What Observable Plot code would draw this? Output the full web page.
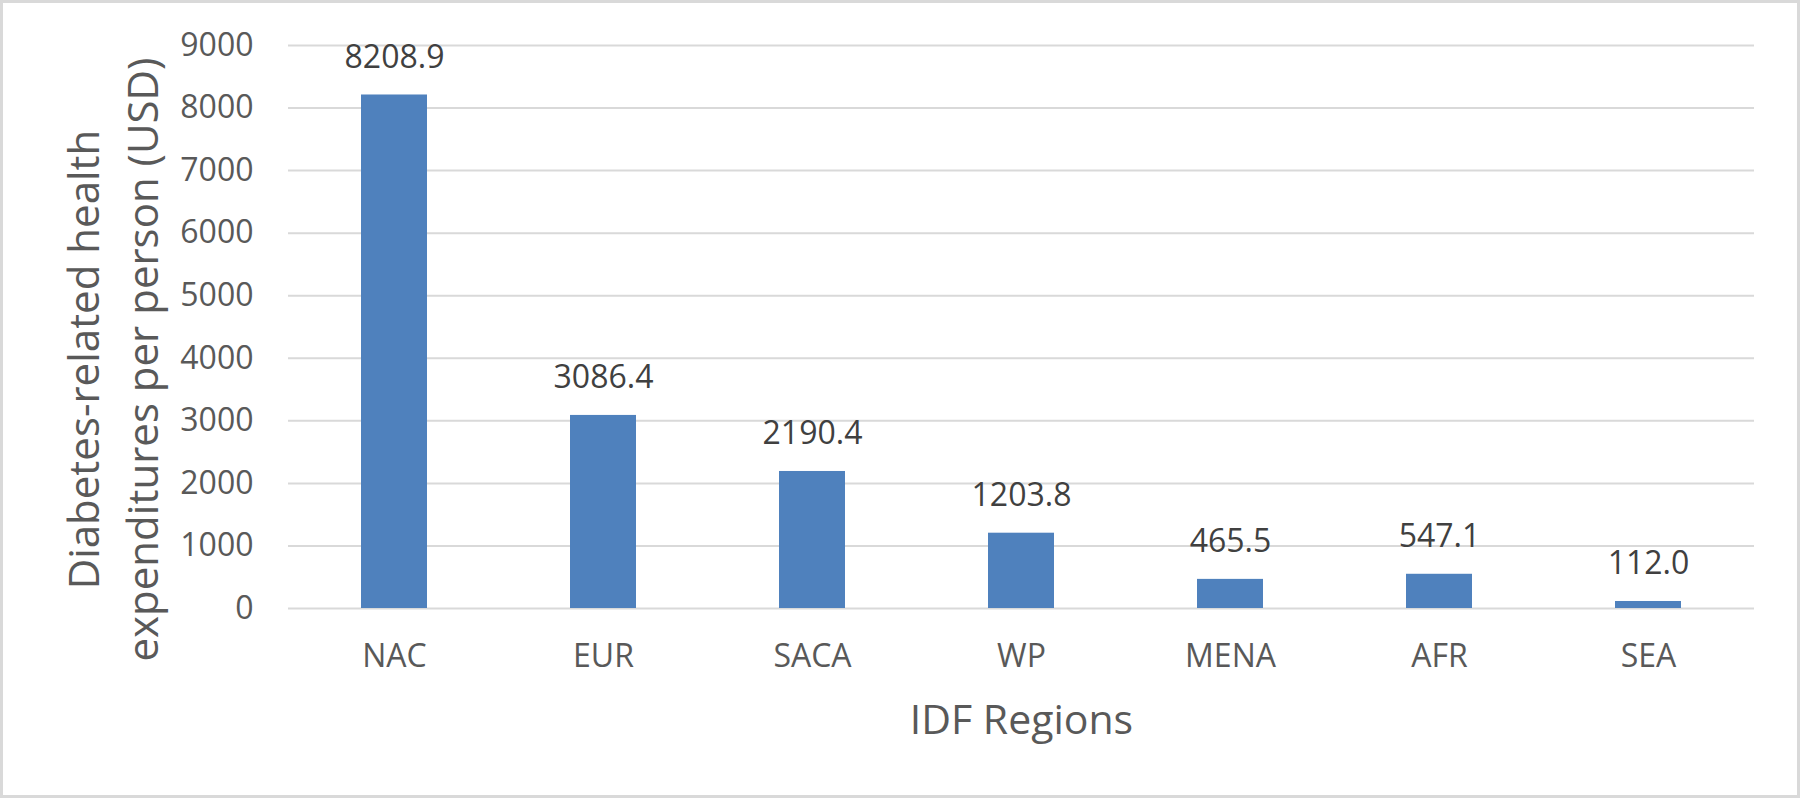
<!DOCTYPE html>
<html><head><meta charset="utf-8">
<script src="https://cdn.jsdelivr.net/npm/d3@7"></script>
<script src="https://cdn.jsdelivr.net/npm/@observablehq/plot@0.6"></script>
<style>
body{margin:0;background:#fff}
#chart svg{display:block;outline:3px solid #d9d9d9;outline-offset:-3px}
</style>
</head><body><div id="chart"></div>
<script>
const regions = ["NAC", "EUR", "SACA", "WP", "MENA", "AFR", "SEA"];
const spending = [8208.9, 3086.4, 2190.4, 1203.8, 465.5, 547.1, 112.0];
const yTicks = [0, 1000, 2000, 3000, 4000, 5000, 6000, 7000, 8000, 9000];
const yTitleLines = ["Diabetes-related health", "expenditures per person (USD)"];
const xTitle = "IDF Regions";

const data = regions.map((r, i) => ({region: r, value: spending[i]}));

const chart = Plot.plot({
  width: 1800,
  height: 798,
  marginLeft: 288,
  marginRight: 46,
  marginTop: 45,
  marginBottom: 190,
  style: {fontFamily: "'Open Sans', sans-serif", background: "#fff"},
  x: {domain: regions, paddingInner: 0.685, paddingOuter: 0.3425, label: null},
  y: {domain: [0, 9000], label: null},
  marks: [
    Plot.gridY(yTicks, {stroke: "#d9d9d9", strokeOpacity: 1, strokeWidth: 2}),
    Plot.barY(data, {x: "region", y: "value", fill: "#4f81bd"}),
    Plot.text(data, {x: "region", y: "value", text: d => d.value.toFixed(1), lineAnchor: "bottom", dy: -27, fontSize: 32, fill: "#404040"}),
    Plot.axisY(yTicks, {tickSize: 0, tickPadding: 35, fontSize: 32, color: "#595959", tickFormat: "d", label: null}),
    Plot.axisX({tickSize: 0, tickPadding: 36, fontSize: 32, color: "#595959", label: null}),
    Plot.text([yTitleLines.join("\n")], {frameAnchor: "left", rotate: -90, dx: -131, dy: 32.5, lineAnchor: "bottom", lineHeight: 1.405, fontSize: 42, fill: "#595959", textAnchor: "middle"}),
    Plot.text([xTitle], {frameAnchor: "bottom", dy: 125, lineAnchor: "bottom", fontSize: 41, fill: "#595959"})
  ]
});
document.getElementById("chart").appendChild(chart);
</script>
</body></html>
